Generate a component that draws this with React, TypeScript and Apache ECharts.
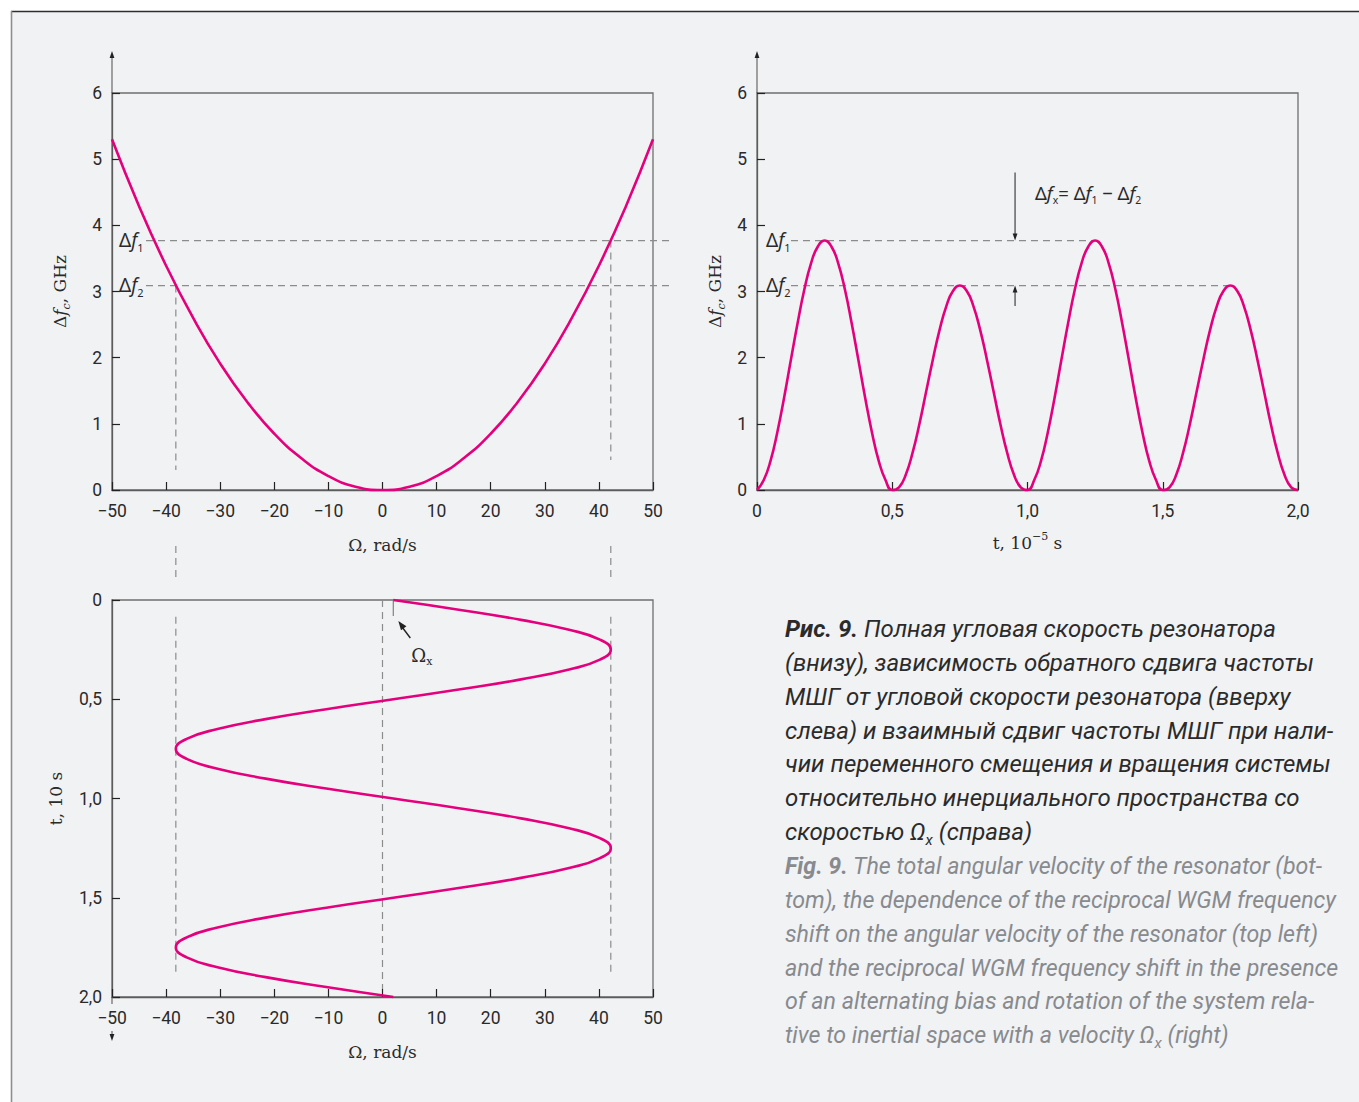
import { useEffect, useRef } from "react";
import * as echarts from "echarts";

// ---------- data ----------
const omegaTicks = [-50, -40, -30, -20, -10, 0, 10, 20, 30, 40, 50];
const shiftTicks = [0, 1, 2, 3, 4, 5, 6];
const timeTicks = [0, 0.5, 1.0, 1.5, 2.0];

// top-left: reciprocal frequency shift vs angular velocity
const omegaSamples = [-50, -45, -40, -35, -30, -25, -20, -15, -10, -5, 0, 5, 10, 15, 20, 25, 30, 35, 40, 45, 50];
const shiftVsOmega = [5.3, 4.29, 3.39, 2.6, 1.91, 1.33, 0.85, 0.48, 0.21, 0.05, 0, 0.05, 0.21, 0.48, 0.85, 1.33, 1.91, 2.6, 3.39, 4.29, 5.3];

// bottom: total angular velocity vs time (t, 10 s)
const timeSamples = [0, 0.05, 0.1, 0.15, 0.2, 0.25, 0.3, 0.35, 0.4, 0.45, 0.5, 0.55, 0.6, 0.65, 0.7, 0.75, 0.8, 0.85, 0.9, 0.95, 1, 1.05, 1.1, 1.15, 1.2, 1.25, 1.3, 1.35, 1.4, 1.45, 1.5, 1.55, 1.6, 1.65, 1.7, 1.75, 1.8, 1.85, 1.9, 1.95, 2];
const omegaVsTime = [2, 14.4, 25.6, 34.5, 40.2, 42.2, 40.2, 34.5, 25.6, 14.4, 2, -10.4, -21.6, -30.5, -36.2, -38.2, -36.2, -30.5, -21.6, -10.4, 2, 14.4, 25.6, 34.5, 40.2, 42.2, 40.2, 34.5, 25.6, 14.4, 2, -10.4, -21.6, -30.5, -36.2, -38.2, -36.2, -30.5, -21.6, -10.4, 2];

// top-right: reciprocal frequency shift vs time (t, 1e-5 s)
const fastTimeSamples = [0, 0.025, 0.05, 0.075, 0.1, 0.125, 0.15, 0.175, 0.2, 0.225, 0.25, 0.275, 0.3, 0.325, 0.35, 0.375, 0.4, 0.425, 0.45, 0.475, 0.5, 0.525, 0.55, 0.575, 0.6, 0.625, 0.65, 0.675, 0.7, 0.725, 0.75, 0.775, 0.8, 0.825, 0.85, 0.875, 0.9, 0.925, 0.95, 0.975, 1, 1.025, 1.05, 1.075, 1.1, 1.125, 1.15, 1.175, 1.2, 1.225, 1.25, 1.275, 1.3, 1.325, 1.35, 1.375, 1.4, 1.425, 1.45, 1.475, 1.5, 1.525, 1.55, 1.575, 1.6, 1.625, 1.65, 1.675, 1.7, 1.725, 1.75, 1.775, 1.8, 1.825, 1.85, 1.875, 1.9, 1.925, 1.95, 1.975, 2];
const shiftVsTime = [
  0, 0.15, 0.44, 0.87, 1.39, 1.96, 2.52, 3.03, 3.43, 3.68, 3.77, 3.68, 3.43, 3.03, 2.52, 1.96, 1.39, 0.87, 0.44, 0.15, 0,
  0.04, 0.23, 0.56, 0.99, 1.48, 1.97, 2.42, 2.78, 3.01, 3.09, 3.01, 2.78, 2.42, 1.97, 1.48, 0.99, 0.56, 0.23, 0.04, 0,
  0.15, 0.44, 0.87, 1.39, 1.96, 2.52, 3.03, 3.43, 3.68, 3.77, 3.68, 3.43, 3.03, 2.52, 1.96, 1.39, 0.87, 0.44, 0.15, 0,
  0.04, 0.23, 0.56, 0.99, 1.48, 1.97, 2.42, 2.78, 3.01, 3.09, 3.01, 2.78, 2.42, 1.97, 1.48, 0.99, 0.56, 0.23, 0.04, 0,
];

const levelDf1 = 3.77;
const levelDf2 = 3.09;
const omegaAtDf1 = 42.2;
const omegaAtDf2 = -38.2;
const omegaX = 2;
const peakTimeDf1 = 1.25;
const peakTimeDf2 = 1.75;
const annotTime = 0.954;

const captionRu = [
  "{rb|Рис. 9.}{r| Полная угловая скорость резонатора}",
  "{r|(внизу), зависимость обратного сдвига частоты}",
  "{r|МШГ от угловой скорости резонатора (вверху}",
  "{r|слева) и взаимный сдвиг частоты МШГ при нали-}",
  "{r|чии переменного смещения и вращения системы}",
  "{r|относительно инерциального пространства со}",
  "{r|скоростью Ω}{rs|x}{r| (справа)}",
];
const captionEn = [
  "{eb|Fig. 9.}{e| The total angular velocity of the resonator (bot-}",
  "{e|tom), the dependence of the reciprocal WGM frequency}",
  "{e|shift on the angular velocity of the resonator (top left)}",
  "{e|and the reciprocal WGM frequency shift in the presence}",
  "{e|of an alternating bias and rotation of the system rela-}",
  "{e|tive to inertial space with a velocity Ω}{es|x}{e| (right)}",
];

// ---------- styles ----------
const W = 1359;
const H = 1102;
const MAGENTA = "#e4007c";
const INK = "#2a2a2a";
const BOX = "#6f6f6f";
const DASH = "#8c8c8c";
const PANEL = "#f1f2f4";
const SANS = "Noto Sans";
const TICKFONT = "Roboto";
const SERIF = "DejaVu Serif";
const CAP = "Roboto";

const fmtOmega = (v: number) => String(v).replace("-", "\u2212");
const fmtTime = (v: number) => (v === 0 ? "0" : v.toFixed(1).replace(".", ","));

const nameRich = {
  n: { fontFamily: SERIF, fontSize: 17, color: INK, verticalAlign: "middle", lineHeight: 24 },
  i: { fontFamily: SERIF, fontSize: 17, color: INK, fontStyle: "italic", verticalAlign: "middle", lineHeight: 24 },
  s: { fontFamily: SERIF, fontSize: 11, color: INK, fontStyle: "italic", verticalAlign: "bottom", lineHeight: 14 },
  sup: { fontFamily: SERIF, fontSize: 11, color: INK, verticalAlign: "top", lineHeight: 14 },
};

function valueAxis(gridIndex: number, ticks: number[], fmt: (v: number) => string, margin: number, extra: any = {}) {
  return {
    type: "value",
    gridIndex,
    min: ticks[0],
    max: ticks[ticks.length - 1],
    interval: ticks[1] - ticks[0],
    axisLine: { show: true, onZero: false, lineStyle: { color: "#5c5c5c", width: 1.3 } },
    axisTick: { show: true, inside: true, length: 8, lineStyle: { color: "#222", width: 1.2 } },
    axisLabel: {
      formatter: fmt,
      fontFamily: TICKFONT,
      fontSize: 17.5,
      lineHeight: 18,
      color: INK,
      margin,
      showMinLabel: true,
      showMaxLabel: true,
    },
    splitLine: { show: false },
    nameLocation: "middle",
    nameTextStyle: { rich: nameRich },
    ...extra,
  };
}

const GRID_STYLE = { show: true, borderColor: BOX, borderWidth: 1.3, backgroundColor: "transparent", containLabel: false };

export default function App() {
  const ref = useRef<HTMLDivElement>(null);

  useEffect(() => {
    const chart = echarts.init(ref.current!, null, { renderer: "svg" });
    chart.setOption({
      animation: false,
      backgroundColor: "#ffffff",
      grid: [
        { ...GRID_STYLE, left: 112, top: 93, width: 541, height: 397 },
        { ...GRID_STYLE, left: 757, top: 93, width: 541, height: 397 },
        { ...GRID_STYLE, left: 112, top: 600, width: 541, height: 397 },
      ],
      xAxis: [
        valueAxis(0, omegaTicks, fmtOmega, 12, { name: "{n|Ω, rad/s}", nameGap: 43 }),
        valueAxis(1, timeTicks, fmtTime, 12, { name: "{n|t, 10}{sup|\u22125}{n| s}", nameGap: 41 }),
        valueAxis(2, omegaTicks, fmtOmega, 12, { name: "{n|Ω, rad/s}", nameGap: 43 }),
      ],
      yAxis: [
        valueAxis(0, shiftTicks, (v: number) => String(v), 10, { name: "{n|Δ}{i|f}{s|c}{n|, GHz}", nameGap: 40, nameRotate: 90 }),
        valueAxis(1, shiftTicks, (v: number) => String(v), 10, { name: "{n|Δ}{i|f}{s|c}{n|, GHz}", nameGap: 30, nameRotate: 90 }),
        valueAxis(2, timeTicks, fmtTime, 10, { name: "{n|t, 10 s}", nameGap: 44, nameRotate: 90, inverse: true }),
      ],
      series: [
        {
          type: "line",
          xAxisIndex: 0,
          yAxisIndex: 0,
          data: omegaSamples.map((o, i) => [o, shiftVsOmega[i]]),
          smooth: true,
          showSymbol: false,
          clip: false,
          lineStyle: { color: MAGENTA, width: 2.6 },
          z: 5,
        },
        {
          type: "line",
          xAxisIndex: 1,
          yAxisIndex: 1,
          data: fastTimeSamples.map((t, i) => [t, shiftVsTime[i]]),
          smooth: true,
          showSymbol: false,
          clip: false,
          lineStyle: { color: MAGENTA, width: 2.6 },
          z: 5,
        },
        {
          type: "line",
          xAxisIndex: 2,
          yAxisIndex: 2,
          data: timeSamples.map((t, i) => [omegaVsTime[i], t]),
          smooth: true,
          showSymbol: false,
          clip: false,
          lineStyle: { color: MAGENTA, width: 2.6 },
          z: 5,
        },
      ],
    });

    const P = (g: number, x: number, y: number) => chart.convertToPixel({ gridIndex: g } as any, [x, y]) as number[];

    const dashed = (x1: number, y1: number, x2: number, y2: number) => ({
      type: "line",
      silent: true,
      z: 3,
      shape: { x1, y1, x2, y2 },
      style: { stroke: DASH, lineWidth: 1.2, lineDash: [7, 5] },
    });
    const solid = (x1: number, y1: number, x2: number, y2: number, color = "#333", w = 1.1) => ({
      type: "line",
      silent: true,
      z: 3,
      shape: { x1, y1, x2, y2 },
      style: { stroke: color, lineWidth: w },
    });
    const arrowHead = (tx: number, ty: number, dx: number, dy: number, len = 8, half = 2.6, color = "#222") => {
      const n = Math.hypot(dx, dy);
      const ux = dx / n;
      const uy = dy / n;
      const bx = tx - ux * len;
      const by = ty - uy * len;
      return {
        type: "polygon",
        silent: true,
        z: 4,
        shape: {
          points: [
            [tx, ty],
            [bx - uy * half, by + ux * half],
            [bx + uy * half, by - ux * half],
          ],
        },
        style: { fill: color },
      };
    };
    const labelRich = {
      d: { fontFamily: SANS, fontSize: 19, fill: INK, verticalAlign: "middle", lineHeight: 26 },
      f: { fontFamily: SANS, fontSize: 19, fill: INK, fontStyle: "italic", verticalAlign: "middle", lineHeight: 26 },
      s: { fontFamily: SANS, fontSize: 11, fill: INK, verticalAlign: "bottom", lineHeight: 14 },
    };
    const mathText = (x: number, y: number, text: string, rich: any = labelRich) => ({
      type: "text",
      silent: true,
      z: 6,
      x,
      y,
      style: { text, rich, align: "left", verticalAlign: "middle" },
    });

    // ---- top-left geometry
    const [tlL, tlT] = P(0, -50, 6);
    const [tlR, tlB] = P(0, 50, 0);
    const yF1 = P(0, 0, levelDf1)[1];
    const yF2 = P(0, 0, levelDf2)[1];
    const xO1 = P(0, omegaAtDf1, 0)[0];
    const xO2 = P(0, omegaAtDf2, 0)[0];
    // ---- top-right geometry
    const [trL, trT] = P(1, 0, 6);
    const yR1 = P(1, 0, levelDf1)[1];
    const yR2 = P(1, 0, levelDf2)[1];
    const xPk1 = P(1, peakTimeDf1, 0)[0];
    const xPk2 = P(1, peakTimeDf2, 0)[0];
    const xAn = P(1, annotTime, 0)[0];
    // ---- bottom geometry
    const [bL, bT] = P(2, -50, 0);
    const bB = P(2, 0, 2)[1];
    const [xOx] = P(2, omegaX, 0);
    const x0 = P(2, 0, 0)[0];

    const capBase = { fontFamily: CAP, fontStyle: "italic", verticalAlign: "middle", lineHeight: 30 };
    const capRich = {
      rb: { ...capBase, fontSize: 24, fontWeight: "bold", fill: "#2b2b2b" },
      r: { ...capBase, fontSize: 24, fill: "#2b2b2b" },
      rs: { ...capBase, fontSize: 15, fill: "#2b2b2b", verticalAlign: "bottom", lineHeight: 18 },
      eb: { ...capBase, fontSize: 23.2, fontWeight: "bold", fill: "#878a8e" },
      e: { ...capBase, fontSize: 23.2, fill: "#878a8e" },
      es: { ...capBase, fontSize: 15, fill: "#878a8e", verticalAlign: "bottom", lineHeight: 18 },
    };
    const captionLines = [...captionRu, ...captionEn].map((t, i) => ({
      type: "text",
      silent: true,
      z: 6,
      x: 785,
      y: 629 + i * 33.85,
      style: { text: t, rich: capRich, align: "left", verticalAlign: "middle" },
    }));

    const omegaRich = {
      o: { fontFamily: SERIF, fontSize: 18, fill: INK, verticalAlign: "middle", lineHeight: 24 },
      s: { fontFamily: SERIF, fontSize: 11, fill: INK, verticalAlign: "bottom", lineHeight: 14 },
    };

    chart.setOption({
      graphic: {
        elements: [
          // page panel
          { type: "rect", silent: true, z: -100, shape: { x: 11, y: 11, width: W - 11, height: H - 11 }, style: { fill: PANEL } },
          solid(11, 11.5, W, 11.5, "#2e2e2e", 1.6),
          solid(11.5, 11, 11.5, H, "#8e8e8e", 1.6),

          // axis arrows
          solid(tlL, tlT, tlL, tlT - 38, "#5c5c5c", 1.1),
          arrowHead(tlL, tlT - 42, 0, -1, 7, 2.4),
          solid(trL, trT, trL, trT - 38, "#5c5c5c", 1.1),
          arrowHead(trL, trT - 42, 0, -1, 7, 2.4),
          solid(bL, bB, bL, bB + 7, "#5c5c5c", 1.1),
          solid(bL, bB + 34, bL, bB + 38, "#5c5c5c", 1.1),
          arrowHead(bL, bB + 44, 0, 1, 7, 2.4),

          // top-left guides
          dashed(tlL + 34, yF1, tlR + 19, yF1),
          dashed(tlL + 34, yF2, tlR + 19, yF2),
          dashed(xO1, yF1, xO1, tlB - 30),
          dashed(xO2, yF2, xO2, tlB - 20),
          dashed(xO1, tlB + 56, xO1, bT - 18),
          dashed(xO2, tlB + 56, xO2, bT - 18),
          mathText(tlL + 7, yF1 - 1, "{d|Δ}{f|f}{s|1}"),
          mathText(tlL + 7, yF2 - 1, "{d|Δ}{f|f}{s|2}"),

          // top-right guides
          dashed(trL + 34, yR1, xPk1, yR1),
          dashed(trL + 34, yR2, xPk2, yR2),
          mathText(trL + 9, yR1 - 1, "{d|Δ}{f|f}{s|1}"),
          mathText(trL + 9, yR2 - 1, "{d|Δ}{f|f}{s|2}"),
          solid(xAn, P(1, 0, 4.8)[1], xAn, yR1 - 6, "#333", 1.1),
          arrowHead(xAn, yR1, 0, 1, 7, 2.4),
          solid(xAn, yR2 + 6, xAn, P(1, 0, 2.78)[1], "#333", 1.1),
          arrowHead(xAn, yR2, 0, -1, 7, 2.4),
          mathText(xAn + 20, P(1, 0, 4.5)[1], "{d|Δ}{f|f}{s|x}{d|= Δ}{f|f}{s|1}{d| − Δ}{f|f}{s|2}", {
            d: { ...labelRich.d, fontSize: 18.5 },
            f: { ...labelRich.f, fontSize: 18.5 },
            s: { ...labelRich.s, fontSize: 10.5 },
          }),

          // bottom guides
          dashed(xO1, P(2, 0, 0.085)[1], xO1, P(2, 0, 1.89)[1]),
          dashed(xO2, P(2, 0, 0.085)[1], xO2, P(2, 0, 1.89)[1]),
          dashed(x0, bT, x0, P(2, 0, 1.96)[1]),
          solid(xOx, bT, xOx, P(2, 0, 0.08)[1], "#8a8a8a", 1.3),
          solid(xOx + 17, bT + 38, xOx + 8, bT + 26, "#222", 1.4),
          arrowHead(xOx + 5, bT + 21, -0.6, -0.8, 9, 3.4),
          mathText(xOx + 18, bT + 55, "{o|Ω}{s|x}", omegaRich),

          ...captionLines,
        ],
      },
    });

    return () => chart.dispose();
  }, []);

  return <div ref={ref} style={{ position: "absolute", left: 0, top: 0, width: W, height: H }} />;
}
